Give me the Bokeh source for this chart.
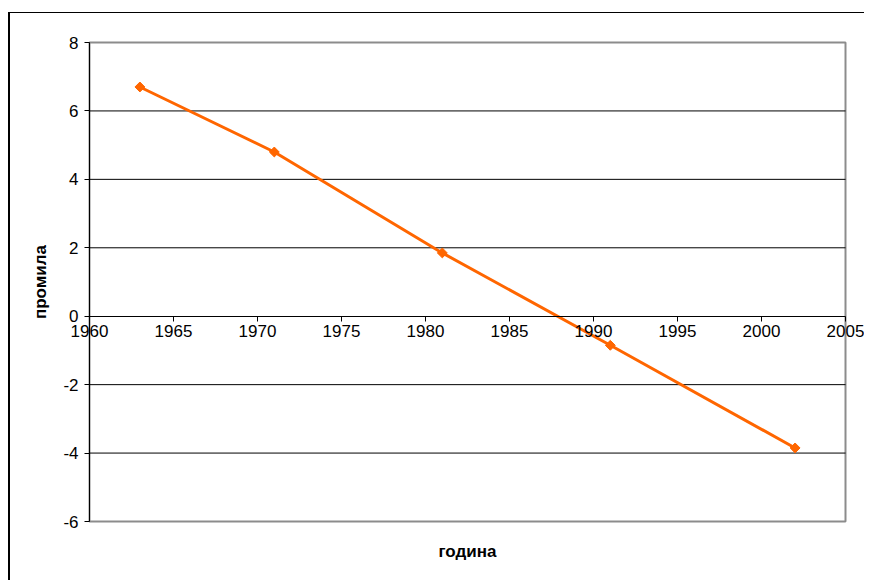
import math
from bokeh.plotting import figure
from bokeh.models import (FixedTicker, LinearAxis, Range1d, Grid, Label,
                          PrintfTickFormatter)
from bokeh.embed import file_html
from bokeh.resources import INLINE

# data
years = [1963, 1971, 1981, 1991, 2002]
values = [6.7, 4.8, 1.85, -0.85, -3.85]
x_ticks = [1960, 1965, 1970, 1975, 1980, 1985, 1990, 1995, 2000, 2005]
y_ticks = [-6, -4, -2, 0, 2, 4, 6, 8]
grid_ticks = [-4, -2, 2, 4, 6]
x_title = "година"
y_title = "промила"

FONT = "Liberation Sans"
ORANGE = "#FF6600"

W, H = 861, 568
# plot-area box inside the canvas (pixels)
PA_L, PA_R, PA_T, PA_B = 79, 835, 29, 508

x_lo, x_hi = x_ticks[0], x_ticks[-1]
y_lo, y_hi = y_ticks[0], y_ticks[-1]
sx = (PA_R - PA_L) / (x_hi - x_lo)
sy = (PA_B - PA_T) / (y_hi - y_lo)
x_range = Range1d(x_lo - PA_L / sx, x_hi + (W - PA_R) / sx)
y_range = Range1d(y_lo - (H - PA_B) / sy, y_hi + PA_T / sy)

p = figure(width=W, height=H, output_backend="svg", toolbar_location=None,
           x_range=x_range, y_range=y_range,
           x_axis_location=None, y_axis_location=None,
           min_border=0, min_border_left=0, min_border_right=0,
           min_border_top=0, min_border_bottom=0,
           background_fill_color="white", border_fill_color="white",
           styles={"border-left": "2px solid black", "border-top": "1px solid black",
                   "margin-top": "12px", "margin-left": "8px",
                   "clip-path": "inset(0px 5px 0px 0px)"})
p.center = [r for r in p.center if not isinstance(r, Grid)]
p.outline_line_color = None

# plot-area border (grey) and black horizontal grid lines
p.quad(left=[x_lo], right=[x_hi], bottom=[y_lo], top=[y_hi],
       fill_color=None, line_color="#8c8c8c", line_width=2)
p.segment(x0=[x_lo] * len(grid_ticks), x1=[x_hi] * len(grid_ticks),
          y0=grid_ticks, y1=grid_ticks, line_color="black", line_width=1)

# y axis at x = 1960
yaxis = LinearAxis(ticker=FixedTicker(ticks=y_ticks), fixed_location=x_lo,
                   formatter=PrintfTickFormatter(format="%d"), bounds=(y_lo, y_hi))
yaxis.axis_line_color = "black"
yaxis.axis_line_width = 1
yaxis.major_tick_line_color = "black"
yaxis.major_tick_out = 5
yaxis.major_tick_in = 0
yaxis.minor_tick_line_color = None
yaxis.major_label_text_font = FONT
yaxis.major_label_text_font_size = "17px"
yaxis.major_label_text_color = "black"
yaxis.major_label_standoff = 6
p.add_layout(yaxis, "left")

# x axis crossing at y = 0
xaxis = LinearAxis(ticker=FixedTicker(ticks=x_ticks), fixed_location=0,
                   formatter=PrintfTickFormatter(format="%d"), bounds=(x_lo, x_hi))
xaxis.axis_line_color = "black"
xaxis.major_tick_line_color = "black"
xaxis.major_tick_out = 5
xaxis.major_tick_in = 0
xaxis.minor_tick_line_color = None
xaxis.major_label_text_font = FONT
xaxis.major_label_text_font_size = "17px"
xaxis.major_label_text_color = "black"
xaxis.major_label_standoff = 4
p.add_layout(xaxis, "below")

# axis titles
p.add_layout(Label(x=(x_lo + x_hi) / 2, y=y_lo, y_offset=-30, text=x_title,
                   text_align="center", text_baseline="middle", text_font=FONT,
                   text_font_size="17px", text_font_style="bold", text_color="black"))
p.add_layout(Label(x=x_lo, y=(y_lo + y_hi) / 2, x_offset=-49, text=y_title,
                   angle=math.pi / 2, text_align="center", text_baseline="middle",
                   text_font=FONT, text_font_size="17px", text_font_style="bold",
                   text_color="black"))

p.line(years, values, line_color=ORANGE, line_width=3)
p.scatter(years, values, marker="square", angle=math.pi / 4, size=7,
          fill_color=ORANGE, line_color=ORANGE)

open("out.html", "w").write(file_html(p, INLINE))
